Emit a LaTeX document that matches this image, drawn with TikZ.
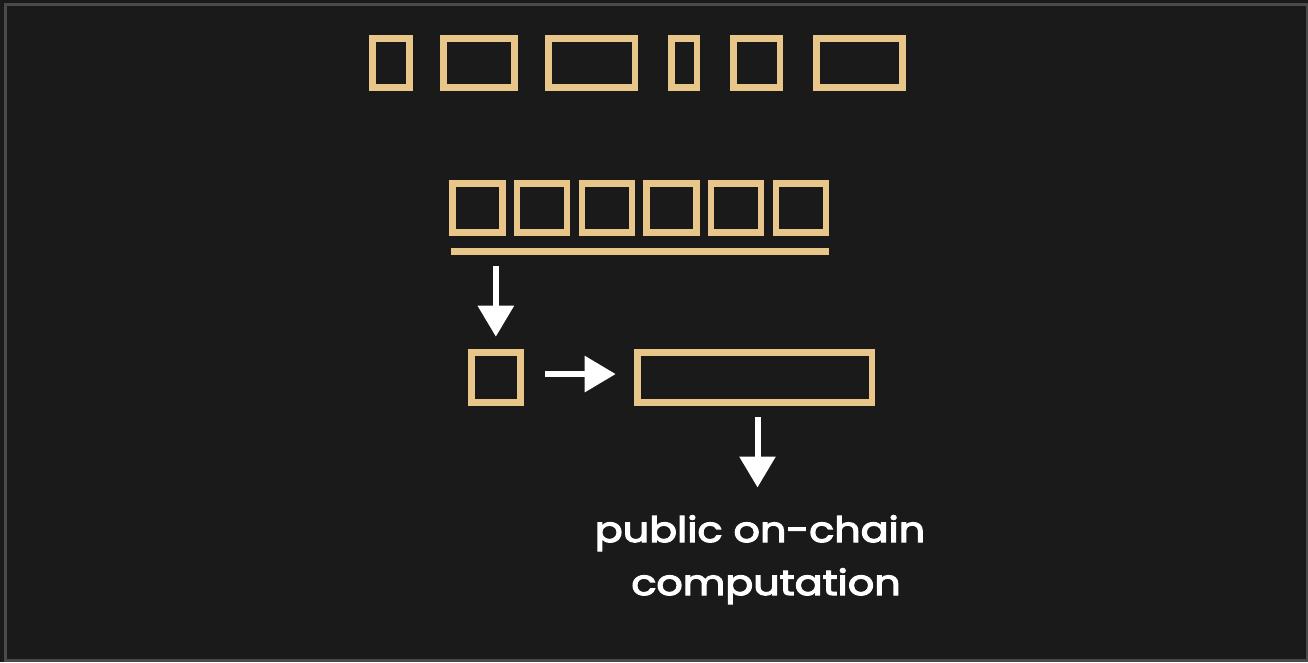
\documentclass[tikz,border=0pt]{standalone}
\usepackage{fontspec}
\setmainfont{Poppins}
\newfontfamily\capfont{Poppins}[FakeStretch=1.18, FakeBold=3.5]
\usetikzlibrary{arrows.meta}

\definecolor{bg}{HTML}{1A1A1A}
\definecolor{edge}{HTML}{4A4A4A}
\definecolor{sand}{HTML}{E8C68A}

\tikzset{
  tofu/.style={draw=sand, line width=6.5pt, rectangle, inner sep=0pt,
               outer sep=3.25pt, minimum height=49.2pt},
  arr/.style={draw=white, line width=6pt,
              -{Triangle[width=35pt,length=31pt]}},
  caption/.style={text=white, inner sep=0pt, anchor=base, text height=26pt,
                  font=\capfont\fontsize{35}{50}\selectfont},
}

\begin{document}
\begin{tikzpicture}[x=1pt, y=-1pt]
  \useasboundingbox (0,0) rectangle (1308,662);
  \fill[bg] (0,0) rectangle (1308,662);
  \draw[edge, line width=3pt] (5.5,4.5) rectangle (1307,660.5);

  % first row of glyph boxes
  \node[tofu, minimum width=37.2pt] (t1) at (390.85,62.85) {};
  \node[tofu, minimum width=71.2pt] (t2) at (478.85,62.85) {};
  \node[tofu, minimum width=86.5pt] (t3) at (591.5,62.85) {};
  \node[tofu, minimum width=25.5pt] (t4) at (684,62.85) {};
  \node[tofu, minimum width=46.5pt] (t5) at (756.5,62.85) {};
  \node[tofu, minimum width=86.2pt] (t6) at (859.35,62.85) {};

  % second row, underlined
  \foreach \i/\cx in {1/477.5,2/542,3/607,4/671.5,5/736,6/801}
    \node[tofu, minimum width=50pt] (r\i) at (\cx,207.85) {};
  \node[fill=sand, inner sep=0pt, outer sep=0pt,
        minimum width=378pt, minimum height=7pt] (bar) at (640,251.5) {};

  % third row
  \node[tofu, minimum width=49.2pt, minimum height=50.2pt] (sbox) at (495.85,377.35) {};
  \node[tofu, minimum width=234.5pt, minimum height=50.2pt] (big) at (754.5,377.35) {};

  % caption, two lines
  \node[caption] (cap) at (760,542) {public on-chain};
  \node[caption] (cap2) at (766,595) {computation};

  % connectors
  \draw[arr, shorten <=11pt, shorten >=12.3pt] (bar.south -| sbox) -- (sbox.north);
  \draw[arr, shorten <=21.6pt, shorten >=18.3pt]
    ([yshift=3.3pt]sbox.east) -- ([yshift=3.3pt]big.west);
  \draw[arr, shorten <=11.3pt, shorten >=28.3pt]
    ([xshift=3pt]big.south) -- ([xshift=3pt]big.south |- cap.north);
\end{tikzpicture}
\end{document}
